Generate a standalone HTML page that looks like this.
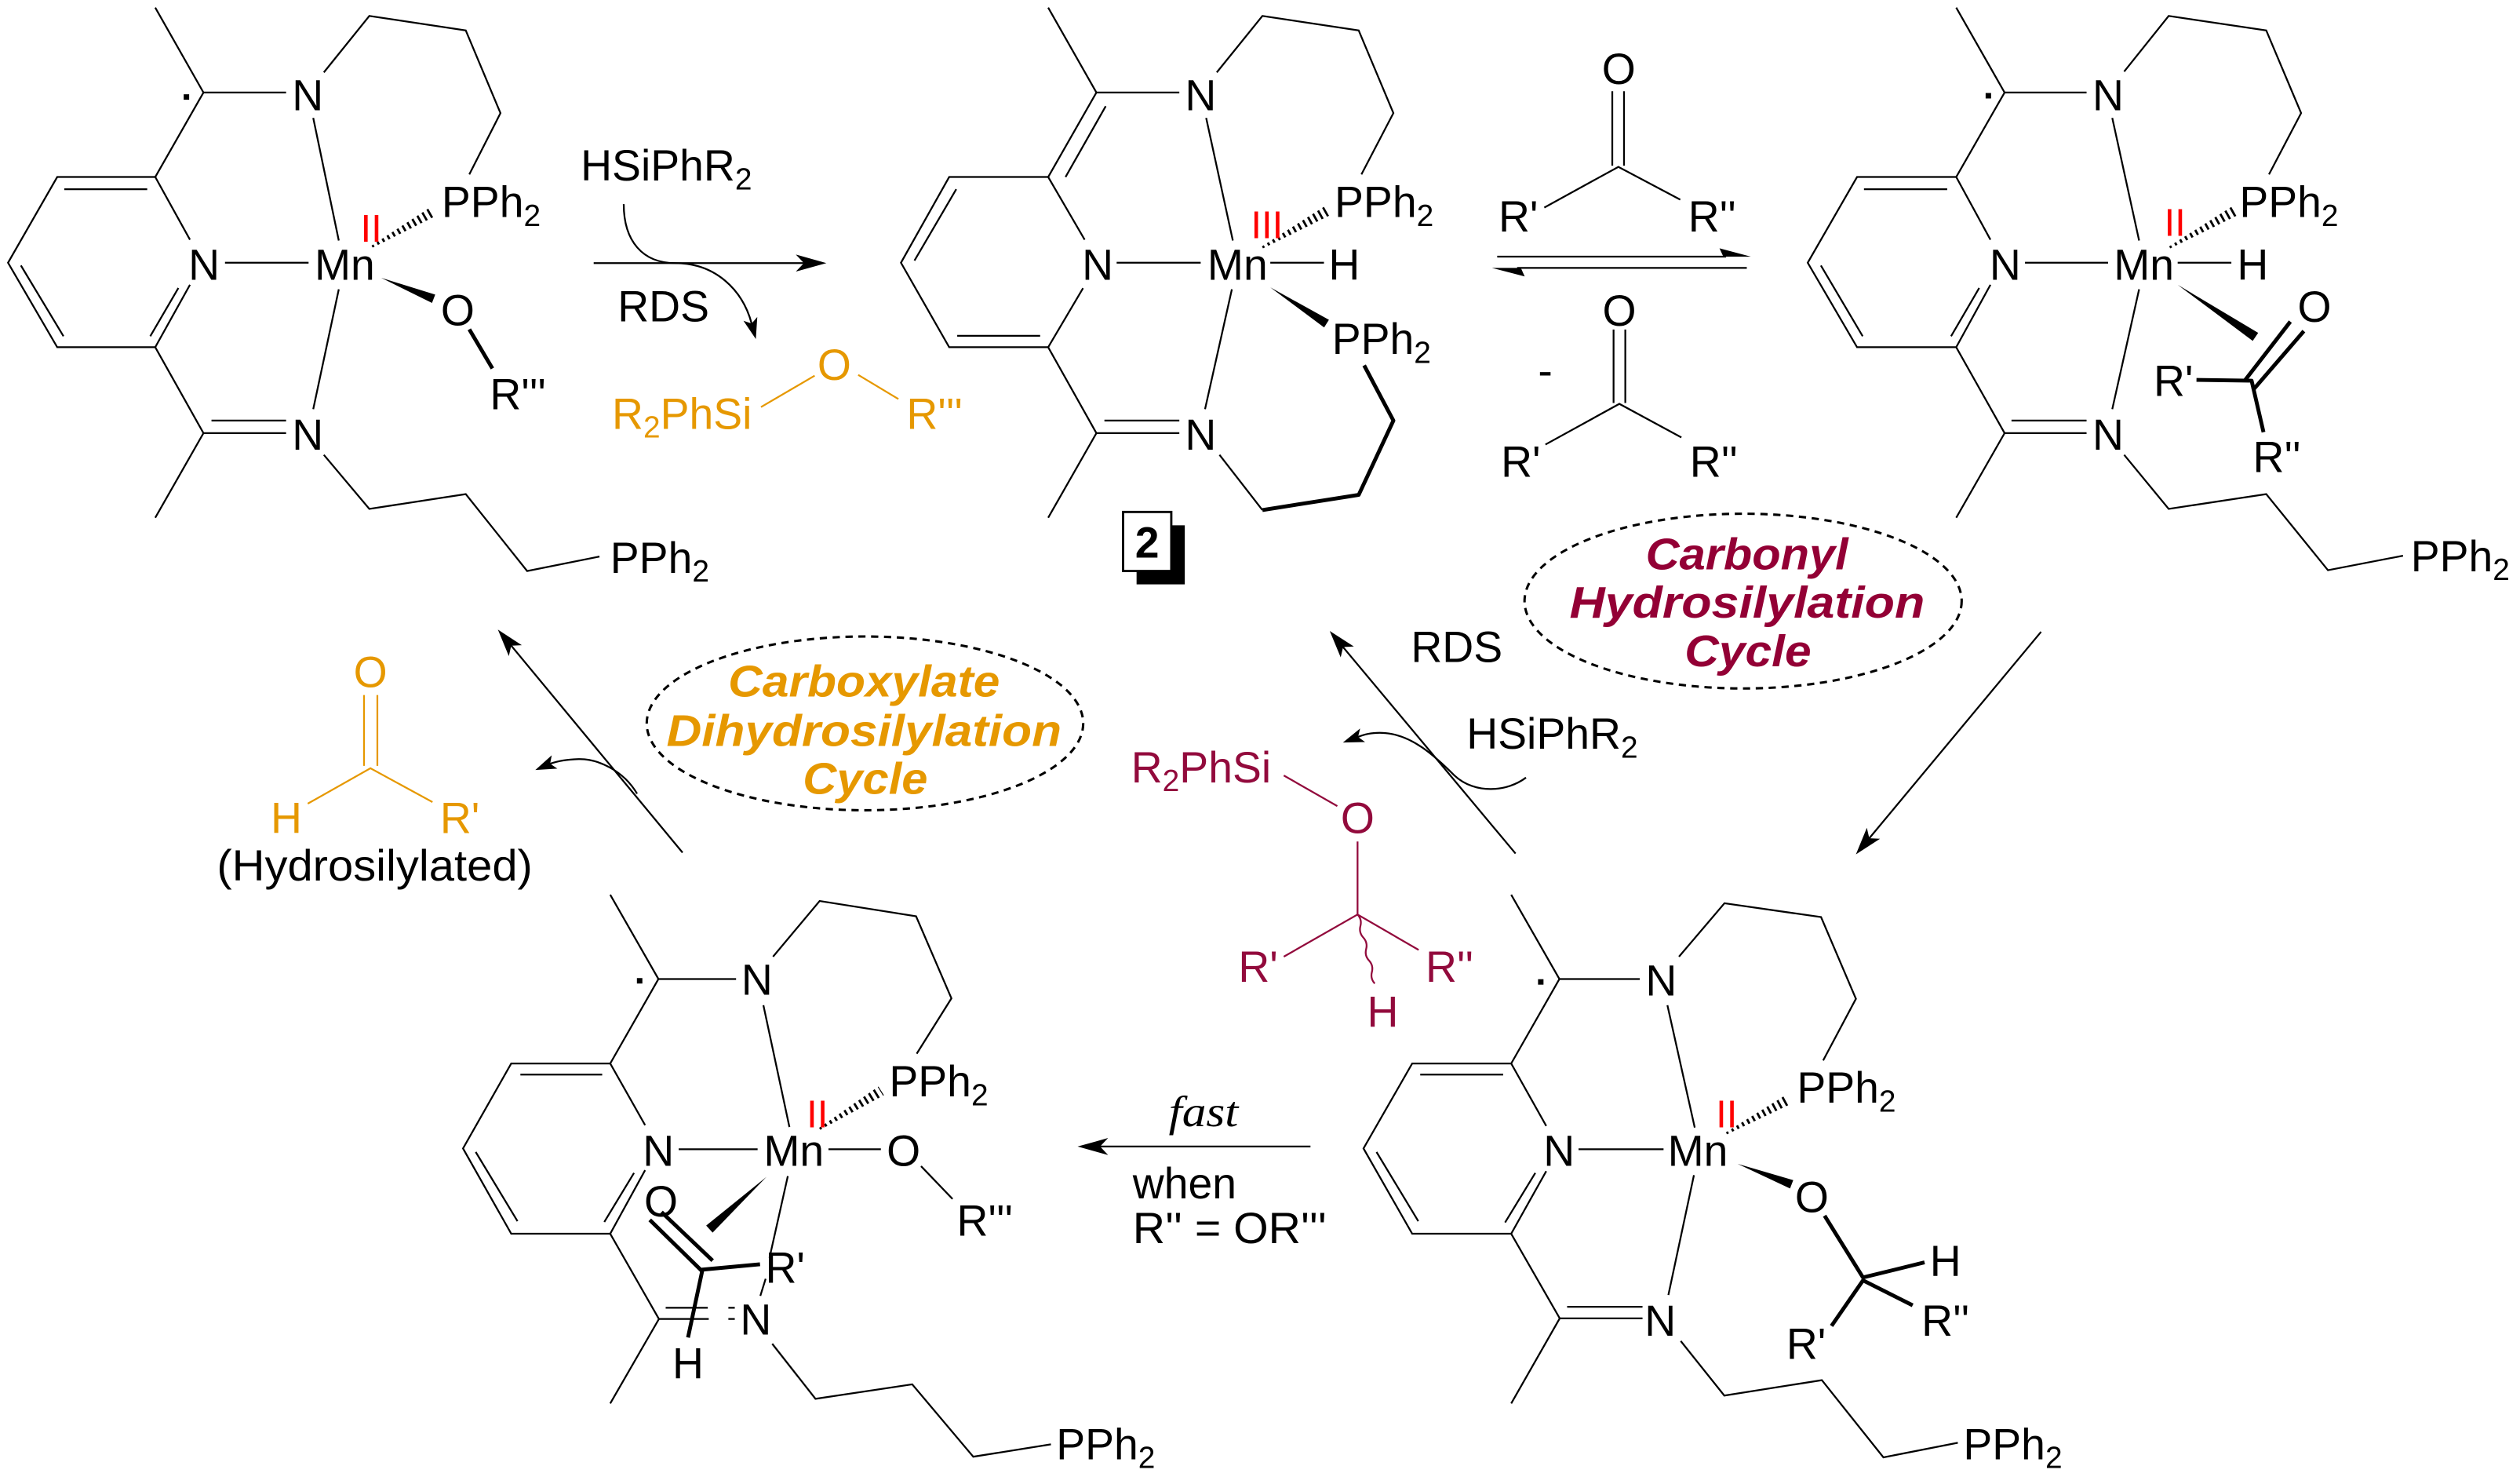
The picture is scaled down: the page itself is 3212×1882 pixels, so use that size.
<!DOCTYPE html>
<html>
<head>
<meta charset="utf-8">
<style>
html,body{margin:0;padding:0;background:#fff;}
body{width:3212px;height:1882px;overflow:hidden;}
svg{display:block;}
text{font-family:"Liberation Sans",Arial,sans-serif;}
</style>
</head>
<body>
<svg xmlns="http://www.w3.org/2000/svg" width="3212" height="1882" viewBox="0 0 1568 918" preserveAspectRatio="none">
<rect x="0" y="0" width="1568" height="918" fill="#fff"/>
<defs>
<clipPath id="h1"><polygon points="231.15,152.69 231.85,153.91 271.4,134.1 268.2,128.5"/></clipPath>
<clipPath id="h2"><polygon points="785.16,153.19 785.84,154.41 827,134.1 823.8,128.5"/></clipPath>
<clipPath id="h3"><polygon points="1349.66,153.19 1350.34,154.41 1391.7,134.1 1388.5,128.5"/></clipPath>
<clipPath id="h4"><polygon points="509.63,701 510.37,702.2 550,680.7 546.6,675.3"/></clipPath>
<clipPath id="h5"><polygon points="1073.86,703.79 1074.54,705.01 1114,686.3 1111,680.7"/></clipPath>
</defs>

<!-- ============ THIN BONDS ============ -->
<g fill="none" stroke="#000" stroke-width="1.1" stroke-linejoin="miter">
<!-- Structure 1 -->
<path d="M96.6,4.7 L126.6,57.5 L178,57.5"/>
<path d="M126.6,57.5 L96.6,110"/>
<path d="M201.5,45 L229.8,9.9 L289.8,18.9 L311.4,70.3 L292,108.4"/>
<path d="M194.9,73.3 L210.8,149.5"/>
<path d="M118.2,149 L96.6,110 L35.6,110 L5,163.3 L35.6,215.8 L96.6,215.8 L118.2,177"/>
<path d="M40,117.6 L91.6,117.6 M13,165 L39.5,209 M111,179 L93.5,209"/>
<path d="M140,163.3 L192,163.3"/>
<path d="M210.8,179.8 L194.9,254.3"/>
<path d="M96.6,215.8 L126.6,269.2 L96.6,321.8"/>
<path d="M126.6,269.2 L178,269.2 M131.6,261.4 L178,261.4"/>
<path d="M201.5,282.7 L229.8,316.3 L289.8,307.1 L328,354.9 L373,345.9"/>

<!-- Structure 2 -->
<path d="M652.2,4.7 L682.2,57.5 L733.8,57.5"/>
<path d="M682.2,57.5 L652.2,110 M688,66 L663,110"/>
<path d="M757.1,45 L785.5,9.9 L845.4,18.9 L867,70.3 L847.1,108.4"/>
<path d="M750.5,73.3 L767.1,149.5"/>
<path d="M674.9,149 L652.2,110 L590.6,110 L560.6,163.3 L590.6,215.8 L652.2,215.8 L673.9,179.1"/>
<path d="M595,117.6 L569,162 M595.6,208.7 L647.2,208.7"/>
<path d="M694.8,163.3 L747.1,163.3 M790.4,163.3 L823.8,163.3"/>
<path d="M766.5,179.8 L749.8,254.3"/>
<path d="M652.2,215.8 L682.2,269.2 L652.2,321.8"/>
<path d="M682.2,269.2 L733.8,269.2 M687.2,261.4 L733.8,261.4"/>
<path d="M758.8,282.7 L785.5,317"/>

<!-- Structure 3 -->
<path d="M1217.2,4.7 L1247.3,57.5 L1298.3,57.5"/>
<path d="M1247.3,57.5 L1217.2,110"/>
<path d="M1321.7,44.5 L1349.4,9.9 L1410.1,18.9 L1431.8,70.3 L1411.8,108.4"/>
<path d="M1314.3,73.3 L1331,149.5"/>
<path d="M1238.5,149 L1217.2,110 L1155.5,110 L1124.8,163.3 L1155.5,215.8 L1217.2,215.8 L1238.5,177"/>
<path d="M1159.8,117.6 L1211.6,117.6 M1133,165 L1159,209 M1231.5,179 L1214,209"/>
<path d="M1260,163.3 L1311.7,163.3 M1355,163.3 L1388.4,163.3"/>
<path d="M1331,179.8 L1314.3,254.3"/>
<path d="M1217.2,215.8 L1247.3,269.2 L1217.2,321.8"/>
<path d="M1247.3,269.2 L1298.3,269.2 M1251.6,261.4 L1298.3,261.4"/>
<path d="M1321.7,282.7 L1349.4,316.3 L1410.1,307.1 L1448.5,354.4 L1495.2,345.4"/>

<!-- Structure 4 -->
<path d="M379.7,556.1 L409.7,608.5 L458,608.5"/>
<path d="M409.7,608.5 L379.7,661"/>
<path d="M481,594.6 L510,560 L570,569.5 L592,620.5 L570.4,654.9"/>
<path d="M475,624.8 L491.2,700.5"/>
<path d="M401.4,699.3 L379.7,661 L318.1,661 L288.1,713.8 L318.1,766.8 L379.7,766.8 L401.4,727.3"/>
<path d="M323.8,667.9 L374.7,667.9 M296,716 L322,759 M394.5,729 L376,759.5"/>
<path d="M422.3,714.3 L471.4,714.3 M515.5,714.3 L548.1,714.3"/>
<path d="M573.1,724.8 L592.7,745.2"/>
<path d="M490.2,731 L478.8,781.8 M476.4,794.8 L473.1,805.4"/>
<path d="M379.7,766.8 L410,819.8 L379.7,872.3"/>
<path d="M410,819.8 L441,819.8 M414.2,812.8 L440.4,812.8 M453.2,812.8 L457.2,812.8 M453.2,819.8 L457.2,819.8"/>
<path d="M480.5,835.2 L507.4,869.4 L567.6,860.4 L605.6,905.4 L653.9,897.7"/>

<!-- Structure 5 -->
<path d="M940.3,556.1 L970.3,608.5 L1020.3,608.5"/>
<path d="M970.3,608.5 L940.3,661"/>
<path d="M1044.7,594.6 L1073,561.4 L1133.1,570 L1154.8,620.8 L1134.4,659.1"/>
<path d="M1037.5,624.8 L1054.5,700.8"/>
<path d="M962.1,699.8 L940.3,661 L878.7,661 L848.4,713.8 L878.7,766.8 L940.3,766.8 L962.1,727.9"/>
<path d="M883.7,667.9 L935.3,667.9 M856.5,716 L882.5,759 M955.3,729 L936.5,759.8"/>
<path d="M982.2,714.3 L1035.1,714.3"/>
<path d="M1054,730.4 L1038.1,804.9"/>
<path d="M940.3,766.8 L970.5,819.4 L940.3,872.3"/>
<path d="M970.5,819.4 L1022,819.4 M975.1,812.2 L1022,812.2"/>
<path d="M1045.8,833.5 L1072.9,867.4 L1133.6,857.8 L1171.9,905.8 L1218.2,896.7"/>

<!-- Ketones (equilibrium) -->
<path d="M1003.2,56.7 L1003.2,103 M1010.5,56.7 L1010.5,103"/>
<path d="M960.9,129 L1007,103.7 L1045.5,124.1"/>
<path d="M1004,204.8 L1004,250.5 M1011.3,204.8 L1011.3,250.5"/>
<path d="M961.6,276.3 L1007.6,251 L1046.2,271.9"/>

<!-- Arrows lines -->
<path d="M369.4,163.5 L500.2,163.5"/>
<path d="M388.1,126.9 C388.1,150 400,163.5 420,163.5 C445,163.5 462,180 467.7,201.1"/>
<path d="M931.6,159.5 L1074,159.5"/>
<path d="M944,166.5 L1086.9,166.5"/>
<path d="M424.7,529.9 L318.1,401.3"/>
<path d="M396.4,493.3 C388,479 372,471.5 360,471.8 C352,472 347,473 342.3,474.7"/>
<path d="M943,530.5 L835.7,402.2"/>
<path d="M949.5,483.3 C938,492 918,494 905,482 C893,470 878,456 860,455.5 C853,455.3 849,456.5 845,458"/>
<path d="M1270,392.7 L1163.1,521"/>
<path d="M815.4,712.6 L684.5,712.6"/>
</g>

<!-- Orange bonds -->
<g fill="none" stroke="#e69800" stroke-width="1.1">
<path d="M473.5,253 L506.9,233.5"/>
<path d="M534,233 L559,248"/>
<path d="M226.5,432 L226.5,476 M234.8,432 L234.8,476"/>
<path d="M191.5,499.5 L230.5,477.5 L269.1,498.5"/>
</g>

<!-- Crimson bonds -->
<g fill="none" stroke="#920a3c" stroke-width="1.1">
<path d="M798.8,482 L832.1,501"/>
<path d="M844.7,523 L844.7,568.4"/>
<path d="M798.8,594.6 L844.7,568.4 L882.7,590.4"/>
<path d="M844.7,568.4 Q847.53,571.5 846.48,575.55 Q845.44,579.61 848.27,582.7 Q851.1,585.8 850.05,589.85 Q849,593.91 851.83,597 Q854.67,600.1 853.62,604.15 Q852.57,608.21 855.4,611.3"/>
</g>

<!-- ============ BOLD BONDS ============ -->
<g fill="none" stroke="#000" stroke-width="2.4" stroke-linejoin="round">
<path d="M292,204.7 L306.4,229"/>
<path d="M785.5,317 L845.4,307.6 L867,261.4 L848.8,227.1"/>
<path d="M1425.1,199.9 L1396.7,236.6 M1433.5,205.8 L1401.8,242.5"/>
<path d="M1366.7,236.1 L1401,236.6 L1408.4,268.6"/>
<path d="M404.3,758.2 L436.8,790 M411.6,753.3 L443.4,783.5"/>
<path d="M472.9,785.8 L437.1,789.1 L428.1,831.3"/>
<path d="M1135.3,755.6 L1159.2,794 L1197.5,784.6"/>
<path d="M1190.1,811.3 L1159.2,795.8 L1139.6,824.1"/>
</g>

<!-- ============ HASHED WEDGES ============ -->
<g stroke="#000" stroke-width="9" stroke-dasharray="1.4 2.3" fill="none">
<line x1="231.5" y1="153.3" x2="270" y2="131.2" clip-path="url(#h1)"/>
<line x1="785.5" y1="153.8" x2="825.6" y2="131.2" clip-path="url(#h2)"/>
<line x1="1350" y1="153.8" x2="1390.3" y2="131.2" clip-path="url(#h3)"/>
<line x1="510" y1="701.6" x2="548.5" y2="677.9" clip-path="url(#h4)"/>
<line x1="1074.2" y1="704.4" x2="1112.7" y2="683.4" clip-path="url(#h5)"/>
</g>

<!-- ============ SOLID WEDGES & ARROWHEADS ============ -->
<g fill="#000" stroke="none">
<polygon points="237.2,172.7 268.8,188.3 270.8,183.1"/>
<polygon points="790.4,178.6 823.9,203.5 826.9,198.8"/>
<polygon points="1355,177 1401.7,211.9 1405.1,206.9"/>
<polygon points="476.9,731.5 443.4,766.1 439.4,761.7"/>
<polygon points="1081.2,723.4 1113.8,738.7 1115.8,733.5"/>
<!-- arrowheads -->
<polygon points="514.2,163.5 495.2,158.2 500.2,163.5 495.2,168.8"/>
<polygon points="470.3,210.7 462.6,199.4 467.7,201.1 471.2,197"/>
<polygon points="1089.4,159.5 1069.9,154.3 1072.3,159.5"/>
<polygon points="928.3,166.5 948.7,171.8 946.3,166.5"/>
<polygon points="309.8,391.3 324.7,401 318.1,401.3 316.6,407.8"/>
<polygon points="333.1,478.6 346.8,477.7 342.3,474.7 343.3,469.4"/>
<polygon points="827.4,392.2 842.4,401.8 835.7,402.2 834.2,408.6"/>
<polygon points="835.6,461.5 849.4,461.2 845,458 846.3,452.8"/>
<polygon points="1154.8,531 1169.8,521.3 1163.1,521 1161.6,514.5"/>
<polygon points="670.5,712.6 689.5,707.3 684.5,712.6 689.5,717.9"/>
<!-- radical dots -->
<rect x="114.3" y="58.6" width="3.4" height="3.4"/>
<rect x="1235.5" y="57.8" width="3.4" height="3.4"/>
<rect x="396.3" y="607.9" width="3.4" height="3.4"/>
<rect x="957" y="608.6" width="3.4" height="3.4"/>
<!-- box 2 shadow -->
<rect x="707.2" y="326.5" width="30" height="36.7"/>
</g>
<rect x="698.8" y="318.2" width="30" height="36.7" fill="#fff" stroke="#000" stroke-width="1.4"/>
<text x="713.8" y="346.6" font-size="27" font-weight="bold" text-anchor="middle">2</text>

<!-- ============ DOTTED ELLIPSES ============ -->
<ellipse cx="1084.6" cy="373.6" rx="136" ry="54.3" fill="none" stroke="#000" stroke-width="1.5" stroke-dasharray="4.5 3.5"/>
<ellipse cx="538.2" cy="449.6" rx="135.8" ry="54" fill="none" stroke="#000" stroke-width="1.5" stroke-dasharray="4.5 3.5"/>

<!-- ============ LABELS (black) ============ -->
<g font-size="27" fill="#000" text-anchor="middle">
<!-- S1 -->
<text x="191.5" y="68.5">N</text>
<text x="127" y="174">N</text>
<text x="214.5" y="174">Mn</text>
<text x="191.5" y="279.5">N</text>
<text x="284.8" y="202.3">O</text>
<!-- S2 -->
<text x="747.1" y="68.5">N</text>
<text x="683" y="174">N</text>
<text x="770" y="174">Mn</text>
<text x="836.4" y="174">H</text>
<text x="747.1" y="279.5">N</text>
<!-- S3 -->
<text x="1311.7" y="68.5">N</text>
<text x="1247.7" y="174">N</text>
<text x="1334" y="174">Mn</text>
<text x="1401.7" y="174">H</text>
<text x="1311.7" y="279.5">N</text>
<text x="1440.1" y="200">O</text>
<!-- S4 -->
<text x="471" y="618.3">N</text>
<text x="409.7" y="724.5">N</text>
<text x="493.9" y="724.5">Mn</text>
<text x="562.2" y="724.5">O</text>
<text x="411.3" y="756">O</text>
<text x="428.1" y="856.7">H</text>
<text x="470.3" y="829.4">N</text>
<!-- S5 -->
<text x="1033.6" y="618.8">N</text>
<text x="970.1" y="724.5">N</text>
<text x="1056.4" y="724.5">Mn</text>
<text x="1127.4" y="753.3">O</text>
<text x="1210.5" y="793.2">H</text>
<text x="1033.1" y="830.3">N</text>
<!-- ketones -->
<text x="1007.2" y="52.3">O</text>
<text x="1007.6" y="202.5">O</text>
<text x="961.5" y="239.5">-</text>
</g>

<g font-size="27" fill="#000" text-anchor="start">
<text x="274.8" y="134.9">PPh<tspan font-size="19" dy="5.5">2</tspan></text>
<text x="379.7" y="356">PPh<tspan font-size="19" dy="5.5">2</tspan></text>
<text x="304.8" y="254.4">R'''</text>
<text x="830.4" y="134.9">PPh<tspan font-size="19" dy="5.5">2</tspan></text>
<text x="828.8" y="220">PPh<tspan font-size="19" dy="5.5">2</tspan></text>
<text x="1393.4" y="134.9">PPh<tspan font-size="19" dy="5.5">2</tspan></text>
<text x="1500" y="355">PPh<tspan font-size="19" dy="5.5">2</tspan></text>
<text x="1340" y="246">R'</text>
<text x="1401.8" y="293.4">R''</text>
<text x="553.3" y="681.5">PPh<tspan font-size="19" dy="5.5">2</tspan></text>
<text x="595.3" y="768">R'''</text>
<text x="476.2" y="797.3">R'</text>
<text x="657.2" y="907">PPh<tspan font-size="19" dy="5.5">2</tspan></text>
<text x="1118.1" y="685.4">PPh<tspan font-size="19" dy="5.5">2</tspan></text>
<text x="1195.6" y="830.3">R''</text>
<text x="1111.5" y="844.7">R'</text>
<text x="1221.6" y="907">PPh<tspan font-size="19" dy="5.5">2</tspan></text>
<!-- ketone substituents -->
<text x="932.4" y="143.8">R'</text>
<text x="1050.4" y="143.8">R''</text>
<text x="933.9" y="296.3">R'</text>
<text x="1051.4" y="296.3">R''</text>
<!-- reagents -->
<text x="361.3" y="112.3">HSiPhR<tspan font-size="19" dy="5.5">2</tspan></text>
<text x="384.3" y="199.8">RDS</text>
<text x="877.9" y="411.4">RDS</text>
<text x="912.5" y="465.4">HSiPhR<tspan font-size="19" dy="5.5">2</tspan></text>
<text x="134.9" y="547.4" textLength="196.5" lengthAdjust="spacingAndGlyphs">(Hydrosilylated)</text>
<text x="704.8" y="744.8">when</text>
<text x="704.8" y="772.7" textLength="120.6" lengthAdjust="spacingAndGlyphs">R'' = OR'''</text>
</g>
<text x="727.2" y="700" font-size="27" font-style="italic" textLength="43.3" lengthAdjust="spacingAndGlyphs" style="font-family:'Liberation Serif','Times New Roman',serif;">fast</text>

<!-- Orange labels -->
<g font-size="27" fill="#e69800">
<text x="380.8" y="266.5">R<tspan font-size="19" dy="5.5">2</tspan><tspan dy="-5.5">PhSi</tspan></text>
<text x="519.1" y="236" text-anchor="middle">O</text>
<text x="564" y="266.5">R'''</text>
<text x="230.5" y="427" text-anchor="middle">O</text>
<text x="178.2" y="517.7" text-anchor="middle">H</text>
<text x="273.8" y="517.7">R'</text>
</g>

<!-- Crimson labels -->
<g font-size="27" fill="#920a3c">
<text x="703.8" y="486.3">R<tspan font-size="19" dy="5.5">2</tspan><tspan dy="-5.5">PhSi</tspan></text>
<text x="844.7" y="517.7" text-anchor="middle">O</text>
<text x="770.5" y="610.3">R'</text>
<text x="887" y="610.3">R''</text>
<text x="860.4" y="638.2" text-anchor="middle">H</text>
</g>

<!-- Cycle titles -->
<g font-size="27.5" font-weight="bold" font-style="italic" text-anchor="middle" fill="#930035">
<text x="1087" y="354" textLength="126" lengthAdjust="spacingAndGlyphs">Carbonyl</text>
<text x="1087.1" y="384" textLength="221" lengthAdjust="spacingAndGlyphs">Hydrosilylation</text>
<text x="1087.6" y="414.1" textLength="78.8" lengthAdjust="spacingAndGlyphs">Cycle</text>
</g>
<g font-size="27.5" font-weight="bold" font-style="italic" text-anchor="middle" fill="#e69800">
<text x="537.6" y="433" textLength="169" lengthAdjust="spacingAndGlyphs">Carboxylate</text>
<text x="537.6" y="463.6" textLength="245.8" lengthAdjust="spacingAndGlyphs">Dihydrosilylation</text>
<text x="538.4" y="493.3" textLength="77.7" lengthAdjust="spacingAndGlyphs">Cycle</text>
</g>

<!-- Red oxidation states -->
<g font-size="24" fill="#ff0000">
<text x="224.3" y="150.2">II</text>
<text x="778.3" y="148">III</text>
<text x="1346.6" y="146.7">II</text>
<text x="501.9" y="700.6">II</text>
<text x="1067.7" y="700.8">II</text>
</g>
</svg>
</body>
</html>
